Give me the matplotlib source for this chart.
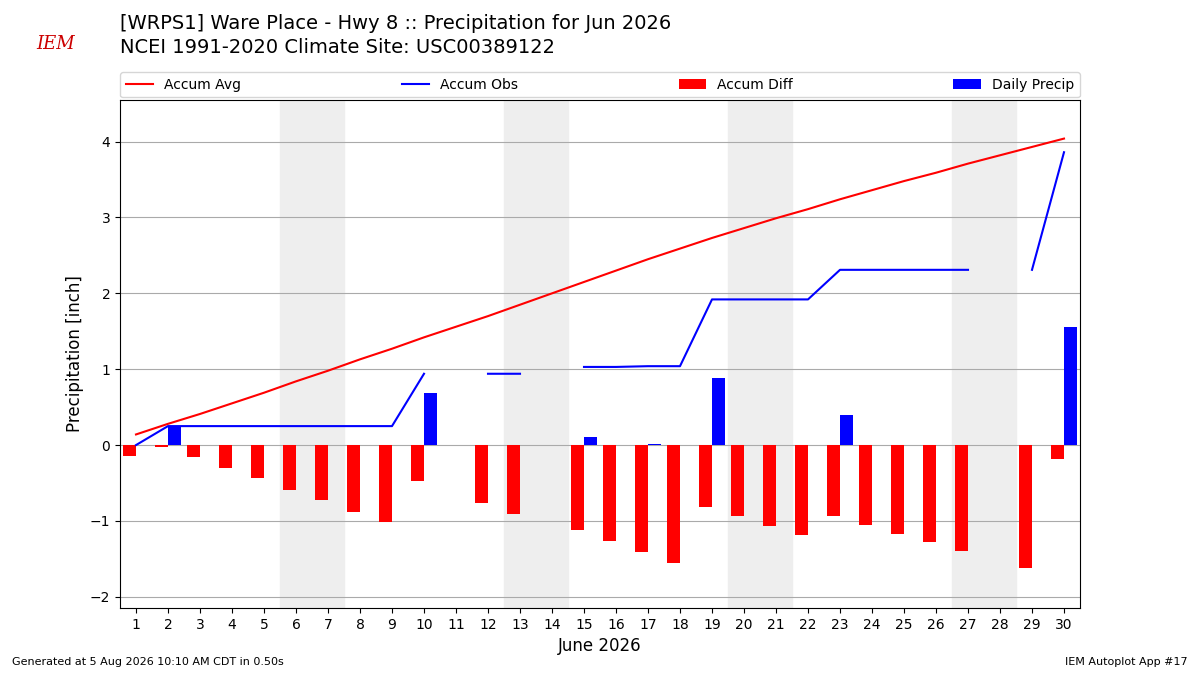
import numpy as np
import matplotlib
matplotlib.use("Agg")
import matplotlib.pyplot as plt

days = list(range(1, 31))
accum_avg = [0.14, 0.28, 0.41, 0.55, 0.69, 0.84, 0.98, 1.13, 1.27, 1.42,
             1.56, 1.70, 1.85, 2.00, 2.15, 2.30, 2.45, 2.59, 2.73, 2.86,
             2.99, 3.11, 3.24, 3.36, 3.48, 3.59, 3.71, 3.82, 3.93, 4.04]
nan = np.nan
accum_obs = [0.0, 0.25, 0.25, 0.25, 0.25, 0.25, 0.25, 0.25, 0.25, 0.94,
             nan, 0.94, 0.94, nan, 1.03, 1.03, 1.04, 1.04, 1.92, 1.92,
             1.92, 1.92, 2.31, 2.31, 2.31, 2.31, 2.31, nan, 2.31, 3.86]
accum_diff = [-0.14, -0.03, -0.16, -0.30, -0.44, -0.59, -0.73, -0.88, -1.02, -0.48,
              nan, -0.76, -0.91, nan, -1.12, -1.27, -1.41, -1.55, -0.81, -0.94,
              -1.07, -1.19, -0.93, -1.05, -1.17, -1.28, -1.40, nan, -1.62, -0.18]
daily_precip = [0, 0.25, 0, 0, 0, 0, 0, 0, 0, 0.69,
                0, 0, 0, 0, 0.10, 0, 0.01, 0, 0.88, 0,
                0, 0, 0.40, 0, 0, 0, 0, 0, 0, 1.55]
weekends = [(6, 7), (13, 14), (20, 21), (27, 28)]

fig = plt.figure(figsize=(12, 6.75), dpi=100)
ax = fig.add_axes([0.1, 0.099, 0.8, 0.753])
x = np.array(days)

for a, b in weekends:
    ax.axvspan(a - 0.5, b + 0.5, color="#eeeeee", zorder=0)
ax.grid(axis="y", color="#aaaaaa", zorder=1)
ax.set_axisbelow(True)

ax.plot(x, accum_avg, color="red", label="Accum Avg", zorder=3)
ax.plot(x, accum_obs, color="blue", label="Accum Obs", zorder=3)
ax.bar(x - 0.2, accum_diff, width=0.4, color="red", label="Accum Diff", zorder=2)
ax.bar(x + 0.2, daily_precip, width=0.4, color="blue", label="Daily Precip", zorder=2)

ax.set_xlim(0.5, 30.5)
ax.set_ylim(-2.15, 4.55)
ax.set_xticks(days)
ax.set_xlabel("June 2026", fontsize=12)
ax.set_ylabel("Precipitation [inch]", fontsize=12)
ax.legend(loc="lower left", bbox_to_anchor=(0, 1.005, 1, 0.1), ncol=4,
          mode="expand", borderaxespad=0, fontsize=10)

fig.text(0.1, 0.965, "[WRPS1] Ware Place - Hwy 8 :: Precipitation for Jun 2026",
         fontsize=14, va="center")
fig.text(0.1, 0.93, "NCEI 1991-2020 Climate Site: USC00389122", fontsize=14, va="center")
fig.text(0.03, 0.935, "IEM", color="#cc0000", fontsize=13, style="italic",
         family="serif", va="center")
fig.text(0.01, 0.015, "Generated at 5 Aug 2026 10:10 AM CDT in 0.50s", fontsize=8)
fig.text(0.99, 0.015, "IEM Autoplot App #17", fontsize=8, ha="right")

fig.savefig("out.png", dpi=100)
